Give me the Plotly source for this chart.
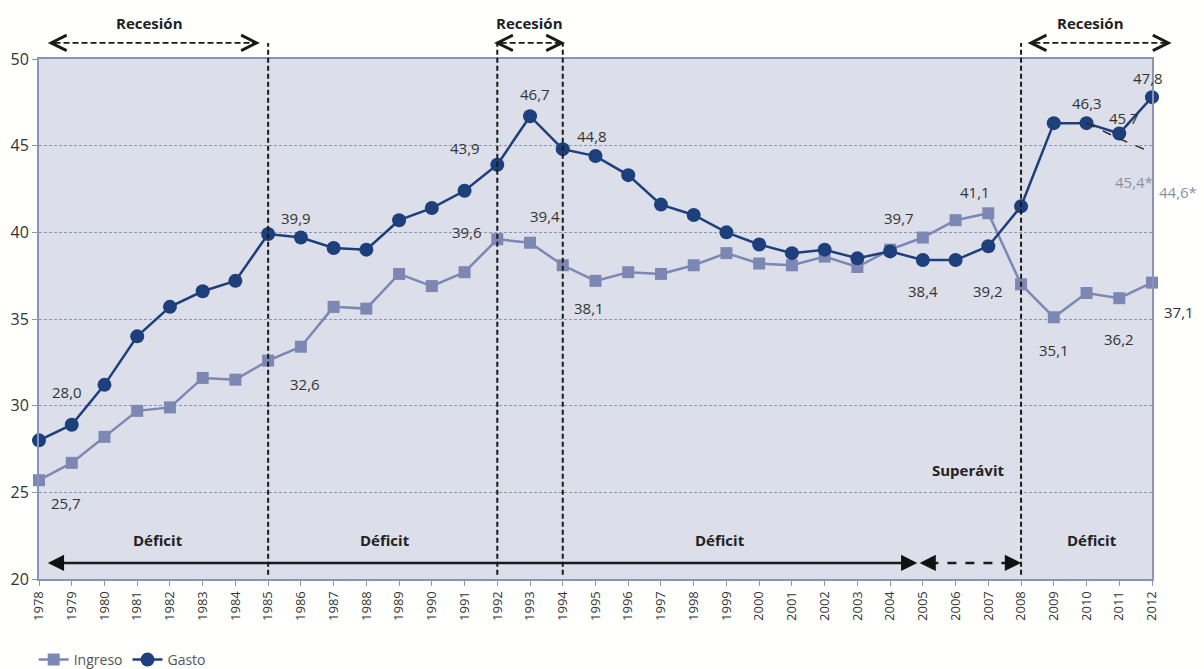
import plotly.graph_objects as go

# ---- data (% of GDP) ----
years = list(range(1978, 2013))
ingreso = [25.7, 26.7, 28.2, 29.7, 29.9, 31.6, 31.5, 32.6, 33.4, 35.7,
           35.6, 37.6, 36.9, 37.7, 39.6, 39.4, 38.1, 37.2, 37.7, 37.6,
           38.1, 38.8, 38.2, 38.1, 38.6, 38.0, 39.0, 39.7, 40.7, 41.1,
           37.0, 35.1, 36.5, 36.2, 37.1]
gasto = [28.0, 28.9, 31.2, 34.0, 35.7, 36.6, 37.2, 39.9, 39.7, 39.1,
         39.0, 40.7, 41.4, 42.4, 43.9, 46.7, 44.8, 44.4, 43.3, 41.6,
         41.0, 40.0, 39.3, 38.8, 39.0, 38.5, 38.9, 38.4, 38.4, 39.2,
         41.5, 46.3, 46.3, 45.7, 47.8]
# projected expenditure path (starred values)
proj_years = [2010, 2011, 2012]
proj_gasto = [46.3, 45.4, 44.6]

# period markers
phase_breaks = [1985, 1992, 1994, 2008]
recesiones = [(1978.27, 1984.75, 1981.39), (1991.9, 1994.07, 1992.97), (2008.2, 2012.6, 2010.13)]
deficit_x = [1981.63, 1988.57, 1998.8, 2010.16]

# value labels: (series, year, xshift, yshift)
labels = [
    ("g", 1978, 28, 48), ("i", 1978, 27, -23),
    ("g", 1985, 28, 16), ("i", 1985, 37, -23),
    ("g", 1992, -32, 17), ("i", 1992, -30, 7),
    ("g", 1993, 5, 22), ("i", 1993, 15, 27),
    ("g", 1994, 29, 13), ("i", 1994, 26, -43),
    ("i", 2005, -24, 20), ("i", 2007, -13, 21),
    ("g", 2005, 0, -31), ("g", 2007, 0, -45),
    ("g", 2010, 0, 20), ("g", 2011, 5, 16), ("g", 2012, -4, 19),
    ("i", 2009, 0, -33), ("i", 2011, 0, -41), ("i", 2012, 27, -29),
]
proj_labels = [(2011, 15, -43), (2012, 26, -39)]

C_GASTO = "#1d3f7c"
C_ING = "#7c87b3"
C_AXIS = "#8a93b8"
FONT = "Open Sans"
X0, X1 = 1978, 2012


def px(year):
    """Year -> paper x fraction."""
    return (year - X0) / (X1 - X0)


def fmt(v):
    return f"{v:.1f}".replace(".", ",")


fig = go.Figure()
fig.add_trace(go.Scatter(
    x=years, y=ingreso, name="Ingreso", mode="lines+markers",
    line=dict(color=C_ING, width=2.5),
    marker=dict(symbol="square", size=12, color=C_ING),
    cliponaxis=False))
fig.add_trace(go.Scatter(
    x=years, y=gasto, name="Gasto", mode="lines+markers",
    line=dict(color=C_GASTO, width=2.5),
    marker=dict(symbol="circle", size=14, color=C_GASTO),
    cliponaxis=False))
fig.add_trace(go.Scatter(
    x=proj_years, y=proj_gasto, mode="lines", showlegend=False,
    line=dict(color="#2a2a2a", width=1.5, dash="dash"),
    cliponaxis=False))

ann = []
series = {"g": gasto, "i": ingreso}
for s, yr, dx, dy in labels:
    v = series[s][years.index(yr)]
    ann.append(dict(x=yr, y=v, xref="x", yref="y", text=fmt(v), showarrow=False,
                    xanchor="center", yanchor="middle",
                    xshift=dx, yshift=dy, font=dict(family=FONT, size=15, color="#333")))
for yr, dx, dy in proj_labels:
    v = proj_gasto[proj_years.index(yr)]
    ann.append(dict(x=yr, y=v, xref="x", yref="y", text=fmt(v) + "*", showarrow=False,
                    xanchor="center", yanchor="middle",
                    xshift=dx, yshift=dy, font=dict(family=FONT, size=15, color="#8a8fa8")))


def label(x, y, text):
    return dict(x=x, y=y, xref="paper", yref="paper", text=text, showarrow=False,
                xanchor="center", yanchor="middle",
                font=dict(family=FONT, size=15, color="#222"))


shapes = []
# vertical phase dividers
for b in phase_breaks:
    shapes.append(dict(type="line", xref="paper", yref="paper", x0=px(b), x1=px(b),
                       y0=0.008, y1=1.031, line=dict(color="#1a1a1a", width=2, dash="5px,3px")))

# recession arrows above the plot
Y_TOP = 1.031
for a, b, c in recesiones:
    shapes.append(dict(type="line", xref="paper", yref="paper", x0=px(a) + 0.006, x1=px(b) - 0.006,
                       y0=Y_TOP, y1=Y_TOP, line=dict(color="#1a1a1a", width=1.6, dash="6px,3px")))
    for tip, off in ((a, 8), (b, -8)):
        ann.append(dict(x=px(tip), y=Y_TOP, xref="paper", yref="paper", ax=off, ay=0,
                        axref="pixel", ayref="pixel", showarrow=True, arrowhead=5,
                        arrowsize=1.9, arrowwidth=1.6, arrowcolor="#1a1a1a", text="", standoff=0))
    ann.append(label(px(c), 1.069, "<b>Recesión</b>"))

# deficit / surplus arrows along the bottom
Y_BOT = 0.031
shapes.append(dict(type="line", xref="paper", yref="paper", x0=px(1978.5), x1=px(2004.6),
                   y0=Y_BOT, y1=Y_BOT, line=dict(color="#1a1a1a", width=2.5)))
shapes.append(dict(type="line", xref="paper", yref="paper", x0=px(2005.2), x1=px(2007.7),
                   y0=Y_BOT, y1=Y_BOT, line=dict(color="#1a1a1a", width=2.5, dash="dash")))
for tip, off in ((1978.27, 10), (2004.83, -10), (2004.9, 10), (2008.0, -10)):
    ann.append(dict(x=px(tip), y=Y_BOT, xref="paper", yref="paper", ax=off, ay=0,
                    axref="pixel", ayref="pixel", showarrow=True, arrowhead=2,
                    arrowsize=1.3, arrowwidth=2.5, arrowcolor="#111", text="", standoff=0))
for xx in deficit_x:
    ann.append(label(px(xx), 0.075, "<b>Déficit</b>"))
ann.append(label(px(2006.38), 0.21, "<b>Superávit</b>"))

fig.update_layout(
    width=1204, height=669, autosize=False,
    margin=dict(l=39, r=52, t=59, b=90, autoexpand=False),
    paper_bgcolor="#fffffe", plot_bgcolor="#dcdfe9",
    font=dict(family=FONT, color="#333"),
    showlegend=True,
    legend=dict(orientation="h", xref="container", yref="container",
                x=0.028, xanchor="left", y=1 - 660 / 669, yanchor="middle",
                font=dict(family=FONT, size=14, color="#555"), bgcolor="rgba(0,0,0,0)",
                itemwidth=30),
    annotations=ann, shapes=shapes,
)
fig.update_xaxes(
    range=[X0, X1], tickmode="array", tickvals=years, ticktext=[str(y) for y in years],
    tickangle=-90, tickfont=dict(family=FONT, size=13, color="#333"),
    ticks="outside", ticklen=5, tickcolor=C_AXIS, showgrid=False, zeroline=False,
    showline=True, linecolor=C_AXIS, linewidth=2, mirror=True,
)
fig.update_yaxes(
    range=[20, 50], tickvals=[20, 25, 30, 35, 40, 45, 50],
    tickfont=dict(family=FONT, size=16, color="#333"),
    ticks="outside", ticklen=5, tickcolor=C_AXIS,
    showgrid=True, gridcolor="#8d93b3", gridwidth=1, griddash="3px,2px", zeroline=False,
    showline=True, linecolor=C_AXIS, linewidth=2, mirror=True,
)

fig.write_html("out.html")
